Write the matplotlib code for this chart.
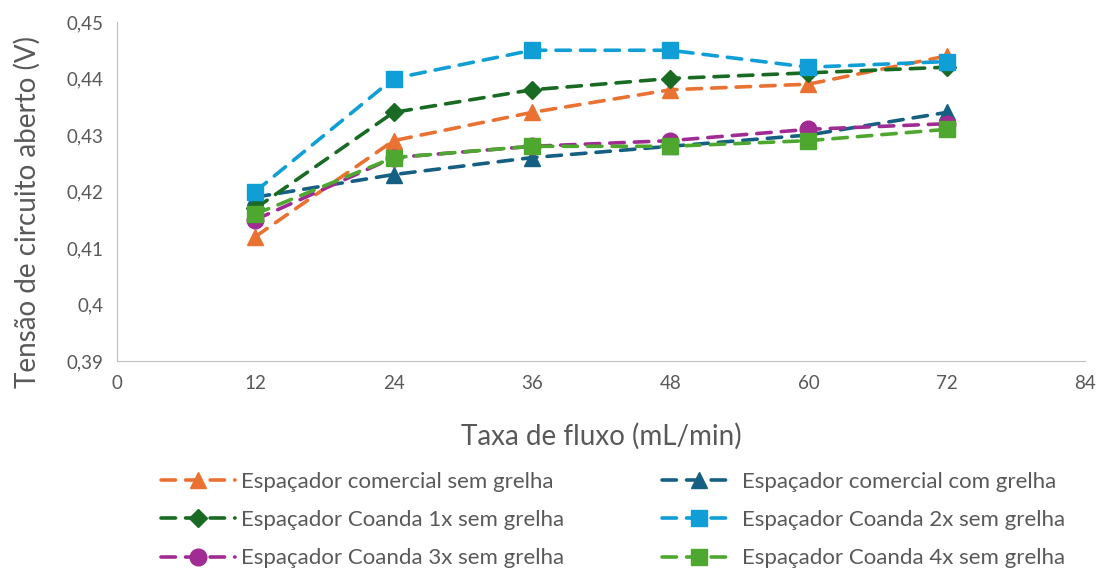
import matplotlib.pyplot as plt
from matplotlib.ticker import FuncFormatter

# Data
flow = [12, 24, 36, 48, 60, 72]
comercial_sem = [0.412, 0.429, 0.434, 0.438, 0.439, 0.444]
comercial_com = [0.419, 0.423, 0.426, 0.428, 0.430, 0.434]
coanda_1x = [0.417, 0.434, 0.438, 0.440, 0.441, 0.442]
coanda_2x = [0.420, 0.440, 0.445, 0.445, 0.442, 0.443]
coanda_3x = [0.415, 0.426, 0.428, 0.429, 0.431, 0.432]
coanda_4x = [0.416, 0.426, 0.428, 0.428, 0.429, 0.431]

plt.rcParams['font.family'] = ['Lato', 'DejaVu Sans']

fig = plt.figure(figsize=(10.99, 5.71), dpi=100)
ax = fig.add_axes([117 / 1099, 1 - 361 / 571, (1085 - 117) / 1099, (361 - 22) / 571])

series = [
    (comercial_sem, 'Espaçador comercial sem grelha', '#E97132', '^', 12),
    (comercial_com, 'Espaçador comercial com grelha', '#156082', '^', 12),
    (coanda_1x, 'Espaçador Coanda 1x sem grelha', '#196B24', 'D', 9),
    (coanda_2x, 'Espaçador Coanda 2x sem grelha', '#0F9ED5', 's', 11),
    (coanda_3x, 'Espaçador Coanda 3x sem grelha', '#A02B93', 'o', 12),
    (coanda_4x, 'Espaçador Coanda 4x sem grelha', '#4EA72E', 's', 11),
]

lines = []
for vals, label, color, marker, ms in series:
    ln, = ax.plot(flow, vals, linestyle=(0, (4, 2.8)), linewidth=2.6, color=color,
                  marker=marker, markersize=ms, label=label, dash_capstyle='round')
    lines.append(ln)

ax.set_xlim(0, 84)
ax.set_ylim(0.39, 0.45)
ax.set_xticks(range(0, 85, 12))
ax.set_yticks([0.39, 0.40, 0.41, 0.42, 0.43, 0.44, 0.45])
ax.yaxis.set_major_formatter(FuncFormatter(lambda v, p: ('%g' % round(v, 2)).replace('.', ',')))
ax.tick_params(length=0, labelsize=13.5, colors='#595959', pad=10)

for side in ['top', 'right']:
    ax.spines[side].set_visible(False)
for side in ['left', 'bottom']:
    ax.spines[side].set_color('#BFBFBF')

ax.set_xlabel('Taxa de fluxo (mL/min)', fontsize=20, color='#595959')
ax.set_ylabel('Tensão de circuito aberto (V)', fontsize=20, color='#595959')
ax.xaxis.set_label_coords(0.5, -0.223)
ax.yaxis.set_label_coords(-0.093, 0.44)
ax.xaxis.label.set_va('center')
ax.yaxis.label.set_va('center')

# legend filled row by row like the original
order = [0, 2, 4, 1, 3, 5]
fig.legend([lines[i] for i in order], [lines[i].get_label() for i in order],
           loc='upper center', bbox_to_anchor=(0.558, 0.193), ncol=2, frameon=False,
           fontsize=16, labelcolor='#595959', handlelength=3.3, columnspacing=4.4,
           labelspacing=0.82, handletextpad=0.3, borderpad=0)

fig.savefig('out.png', dpi=100)
